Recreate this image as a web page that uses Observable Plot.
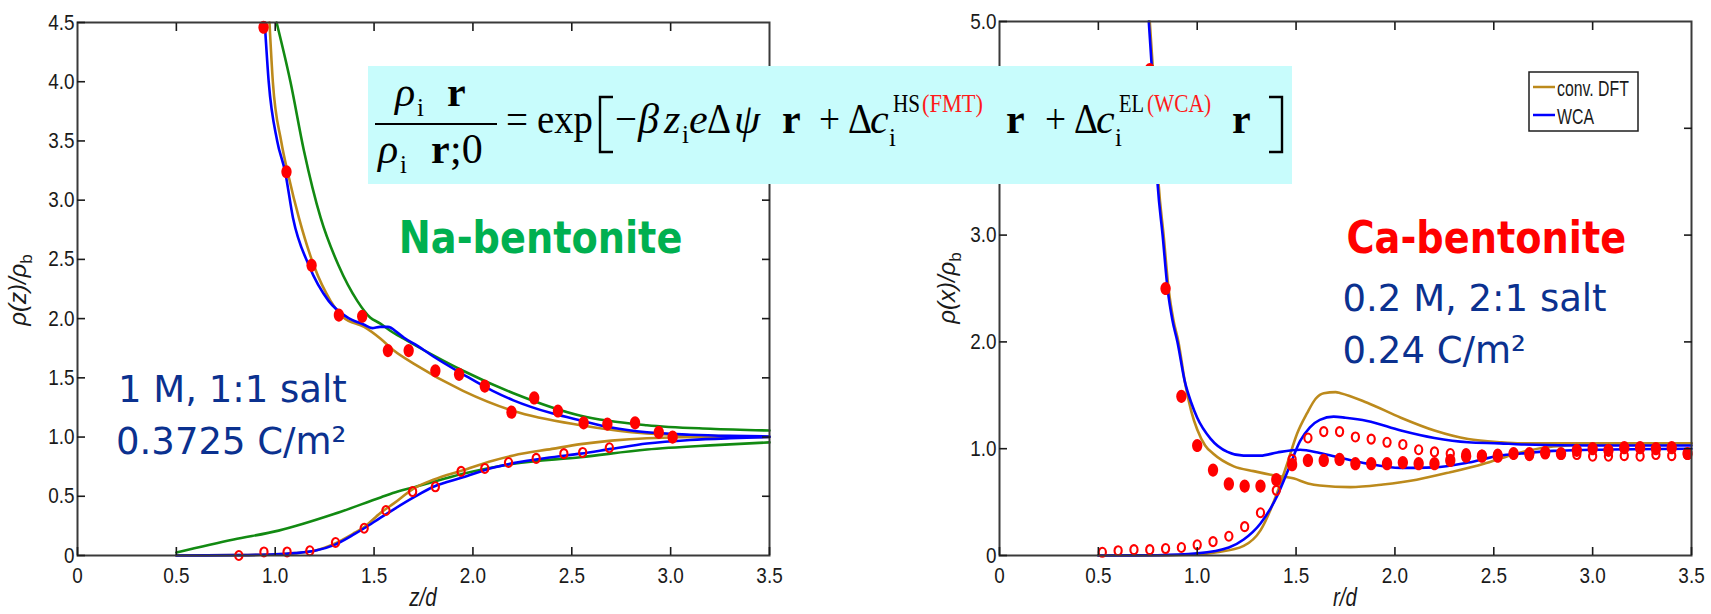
<!DOCTYPE html>
<html><head><meta charset="utf-8">
<script src="https://cdn.jsdelivr.net/npm/d3@7"></script>
<script src="https://cdn.jsdelivr.net/npm/@observablehq/plot@0.6"></script>
<style>
html,body{margin:0;padding:0;background:#fff;}
#root{position:relative;width:1711px;height:614px;overflow:hidden;background:#fff;}
#root > svg{position:absolute;}
</style></head><body><div id="root"></div>
<script>
// ---------------- DATA ----------------
const xTicks = [0, 0.5, 1.0, 1.5, 2.0, 2.5, 3.0, 3.5];
const naYTicks = [0, 0.5, 1.0, 1.5, 2.0, 2.5, 3.0, 3.5, 4.0, 4.5];
const caYTicks = [0, 1.0, 2.0, 3.0, 4.0, 5.0];
const caHiddenTickLabels = [4.0]; // covered by the equation box in the reference

// Na-bentonite (left) : counterion curves
const naCounterWCA = [[0.947,4.5],[0.967,4.0],[1.01,3.5],[1.05,3.24],[1.09,2.85],[1.17,2.45],[1.27,2.15],[1.365,2.01],[1.447,1.95],[1.49,1.92],[1.53,1.93],[1.57,1.93],[1.62,1.88],[1.65,1.84],[1.72,1.77],[1.8,1.68],[1.95,1.53],[2.1,1.39],[2.205,1.31],[2.4,1.2],[2.545,1.14],[2.7,1.08],[2.88,1.04],[3.1,1.02],[3.3,1.01],[3.5,1.005]];
const naCounterDFT = [[0.971,4.5],[0.988,4.0],[1.03,3.5],[1.068,3.2],[1.12,2.85],[1.195,2.45],[1.28,2.15],[1.345,2.01],[1.45,1.93],[1.533,1.83],[1.6,1.73],[1.70,1.62],[1.95,1.39],[2.205,1.22],[2.545,1.10],[2.88,1.03],[3.2,1.01],[3.5,1.0]];
const naCounterPB = [[1.007,4.5],[1.077,4.0],[1.145,3.42],[1.23,2.85],[1.32,2.45],[1.415,2.15],[1.48,2.01],[1.53,1.96],[1.58,1.90],[1.65,1.83],[1.8,1.69],[1.95,1.56],[2.205,1.37],[2.545,1.18],[2.88,1.10],[3.2,1.07],[3.5,1.055]];
// Na-bentonite : coion curves
const naCoWCA = [[0.5,0.0],[0.8,0.003],[1.0,0.01],[1.1,0.02],[1.2,0.04],[1.3,0.09],[1.4,0.18],[1.45,0.23],[1.533,0.32],[1.6,0.39],[1.7,0.49],[1.8,0.58],[1.95,0.66],[2.1,0.74],[2.205,0.78],[2.4,0.83],[2.545,0.86],[2.7,0.9],[2.88,0.945],[3.1,0.975],[3.3,0.99],[3.5,1.0]];
const naCoDFT = [[0.5,0.0],[0.8,0.003],[1.0,0.01],[1.1,0.02],[1.2,0.04],[1.3,0.1],[1.4,0.19],[1.45,0.24],[1.533,0.36],[1.6,0.44],[1.7,0.565],[1.8,0.64],[1.95,0.72],[2.1,0.8],[2.205,0.845],[2.4,0.9],[2.545,0.94],[2.7,0.97],[2.88,0.99],[3.2,1.0],[3.5,1.0]];
const naCoPB = [[0.5,0.025],[0.79,0.135],[1.017,0.21],[1.297,0.35],[1.533,0.49],[1.62,0.54],[1.70,0.575],[1.95,0.69],[2.205,0.775],[2.545,0.83],[2.88,0.895],[3.2,0.93],[3.5,0.955]];
// Na-bentonite : simulation points
const naCounterMC = [[0.941,4.46],[1.057,3.24],[1.184,2.45],[1.322,2.03],[1.44,2.02],[1.57,1.73],[1.675,1.73],[1.81,1.56],[1.93,1.53],[2.06,1.43],[2.195,1.21],[2.31,1.33],[2.43,1.22],[2.56,1.12],[2.68,1.11],[2.82,1.12],[2.94,1.04],[3.01,1.0]];
const naCoMC = [[0.816,0.0],[0.943,0.03],[1.06,0.03],[1.175,0.04],[1.305,0.11],[1.45,0.23],[1.56,0.38],[1.695,0.54],[1.81,0.58],[1.94,0.71],[2.06,0.735],[2.18,0.785],[2.32,0.82],[2.46,0.86],[2.555,0.87],[2.69,0.91]];

// Ca-bentonite (right) : counterion curves
const caCounterWCA = [[0.755,5.0],[0.77,4.58],[0.80,3.47],[0.825,3.0],[0.85,2.5],[0.875,2.2],[0.90,2.0],[0.936,1.64],[0.97,1.43],[1.0,1.29],[1.067,1.095],[1.153,0.97],[1.234,0.935],[1.32,0.935],[1.405,0.965],[1.52,0.99],[1.62,0.96],[1.725,0.915],[1.86,0.86],[2.03,0.82],[2.2,0.825],[2.37,0.87],[2.53,0.935],[2.64,0.955],[2.8,0.98],[3.0,0.99],[3.5,1.0]];
const caCounterDFT = [[0.76,5.0],[0.775,4.58],[0.805,3.47],[0.83,3.0],[0.855,2.5],[0.88,2.2],[0.905,2.0],[0.94,1.6],[0.97,1.35],[1.0,1.18],[1.04,1.03],[1.08,0.955],[1.185,0.835],[1.285,0.79],[1.39,0.75],[1.49,0.72],[1.56,0.675],[1.62,0.655],[1.775,0.64],[1.94,0.665],[2.11,0.71],[2.28,0.78],[2.45,0.86],[2.57,0.93],[2.635,0.965],[2.8,1.02],[3.0,1.04],[3.5,1.05]];
// Ca-bentonite : coion curves
const caCoWCA = [[0.5,0.0],[0.8,0.003],[1.0,0.02],[1.16,0.075],[1.235,0.15],[1.32,0.3],[1.405,0.56],[1.46,0.8],[1.52,1.07],[1.57,1.2],[1.62,1.27],[1.69,1.3],[1.75,1.29],[1.86,1.26],[2.03,1.17],[2.2,1.1],[2.37,1.06],[2.53,1.05],[2.64,1.04],[3.0,1.03],[3.5,1.03]];
const caCoDFT = [[0.5,0.0],[0.8,0.002],[1.0,0.01],[1.1,0.03],[1.235,0.09],[1.32,0.235],[1.405,0.59],[1.455,0.86],[1.505,1.14],[1.555,1.33],[1.6,1.47],[1.64,1.52],[1.7,1.53],[1.725,1.52],[1.86,1.43],[2.03,1.29],[2.2,1.17],[2.37,1.09],[2.53,1.06],[2.64,1.05],[3.0,1.05],[3.5,1.05]];
// Ca-bentonite : simulation points
const caCounterMC = [[0.76,4.55],[0.84,2.5],[0.92,1.49],[1.0,1.03],[1.08,0.8],[1.16,0.67],[1.24,0.65],[1.32,0.65],[1.4,0.71],[1.48,0.85],[1.56,0.89],[1.64,0.89],[1.72,0.9],[1.8,0.86],[1.88,0.86],[1.96,0.86],[2.04,0.87],[2.12,0.86],[2.2,0.86],[2.28,0.89],[2.36,0.93],[2.44,0.93],[2.52,0.93],[2.6,0.955],[2.68,0.955],[2.76,0.965],[2.84,0.955],[2.92,0.985],[3.0,1.0],[3.08,0.985],[3.16,1.01],[3.24,1.01],[3.32,1.0],[3.4,1.01],[3.48,0.955]];
const caCoMC = [[0.52,0.03],[0.6,0.045],[0.68,0.055],[0.76,0.055],[0.84,0.065],[0.92,0.075],[1.0,0.1],[1.08,0.13],[1.16,0.18],[1.24,0.27],[1.32,0.4],[1.4,0.61],[1.48,0.9],[1.56,1.1],[1.64,1.16],[1.72,1.16],[1.8,1.11],[1.88,1.09],[1.96,1.06],[2.04,1.04],[2.12,0.99],[2.2,0.97],[2.28,0.955],[2.36,0.955],[2.44,0.94],[2.52,0.95],[2.6,0.96],[2.68,0.935],[2.76,0.95],[2.84,0.945],[2.92,0.945],[3.0,0.93],[3.08,0.93],[3.16,0.935],[3.24,0.93],[3.32,0.945],[3.4,0.935],[3.48,0.945]];

// annotations
const naNotes = [
  {x:1.625, y:2.55, text:"Na-bentonite", kind:"title", color:"#00b050"},
  {x:0.205, y:1.292, text:"1 M, 1:1 salt", kind:"cond", color:"#0b318f"},
  {x:0.195, y:0.861, text:"0.3725 C/m²", kind:"cond", color:"#0b318f"}
];
const caNotes = [
  {x:1.755, y:2.837, text:"Ca-bentonite", kind:"title", color:"#ff0000"},
  {x:1.735, y:2.294, text:"0.2 M, 2:1 salt", kind:"cond", color:"#0b318f"},
  {x:1.735, y:1.798, text:"0.24 C/m²", kind:"cond", color:"#0b318f"}
];
const legendItems = [{label:"conv. DFT", color:"#bc8a1c"}, {label:"WCA", color:"#0000ff"}];

// ---------------- STYLE ----------------
const C = {wca:"#0000ff", dft:"#bc8a1c", pb:"#128a12", mc:"#ff0000"};

function ellipse(kx){
  return {draw(ctx, size){
    const r = Math.sqrt(size/Math.PI), rx = r*kx, ry = r, k = 0.5523;
    ctx.moveTo(rx,0);
    ctx.bezierCurveTo(rx, ry*k, rx*k, ry, 0, ry);
    ctx.bezierCurveTo(-rx*k, ry, -rx, ry*k, -rx, 0);
    ctx.bezierCurveTo(-rx, -ry*k, -rx*k, -ry, 0, -ry);
    ctx.bezierCurveTo(rx*k, -ry, rx, -ry*k, rx, 0);
    ctx.closePath();
  }};
}
const fmt = d => d === 0 ? "0" : d.toFixed(1);
const px = d => d[0], py = d => d[1];

function panel({width, marginLeft, marginRight, marginTop, ymax, yTicks, hidden = [], curves, filled, open, notes}){
  const lineMarks = curves.map(([data, color]) => Plot.line(data, {x:px, y:py, stroke:color, strokeWidth:2.6, curve:"monotone-x"}));
  return Plot.plot({
    width, height:614, marginLeft, marginRight, marginTop, marginBottom:59,
    x:{domain:[0,3.5]}, y:{domain:[0,ymax]},
    style:{fontFamily:"'Liberation Sans Narrow','Liberation Sans',Arial,sans-serif", fontSize:"22px", color:"#1a1a1a", background:"transparent", overflow:"visible"},
    marks:[
      ...lineMarks,
      Plot.dot(filled, {x:px, y:py, r:6.6, symbol:ellipse(0.78), fill:C.mc, stroke:"none"}),
      Plot.dot(open, {x:px, y:py, r:4.5, symbol:ellipse(0.8), fill:"none", stroke:C.mc, strokeWidth:2.1}),
      Plot.text(notes.filter(n=>n.kind==="title"), {x:"x", y:"y", text:"text", fill:"color", textAnchor:"start", lineAnchor:"bottom", fontSize:44, fontWeight:"bold", fontFamily:"'DejaVu Sans',Verdana,sans-serif"}),
      Plot.text(notes.filter(n=>n.kind==="cond"), {x:"x", y:"y", text:"text", fill:"color", textAnchor:"start", lineAnchor:"bottom", fontSize:37, fontFamily:"'DejaVu Sans',Verdana,sans-serif"}),
      Plot.frame({stroke:"#3a3a3a", strokeWidth:2}),
      Plot.axisX({ticks:xTicks, anchor:"bottom", tickSize:-8, tickPadding:20, tickFormat:fmt, label:null, strokeWidth:1.6}),
      Plot.axisX({ticks:xTicks.slice(1,-1), anchor:"top", tickSize:-8, tickFormat:()=>"", label:null, strokeWidth:1.6}),
      Plot.axisY({ticks:yTicks.filter(t=>!hidden.includes(t)), anchor:"left", tickSize:-8, tickPadding:11, tickFormat:fmt, label:null, strokeWidth:1.6}),
      Plot.axisY({ticks:hidden, anchor:"left", tickSize:-8, tickFormat:()=>"", label:null, strokeWidth:1.6}),
      Plot.axisY({ticks:yTicks.slice(1,-1), anchor:"right", tickSize:-8, tickFormat:()=>"", label:null, strokeWidth:1.6})
    ]
  });
}

const root = document.getElementById("root");

const left = panel({width:800, marginLeft:77, marginRight:31, marginTop:22, ymax:4.5, yTicks:naYTicks,
  curves:[[naCounterPB,C.pb],[naCoPB,C.pb],[naCounterDFT,C.dft],[naCoDFT,C.dft],[naCounterWCA,C.wca],[naCoWCA,C.wca]],
  filled:naCounterMC, open:naCoMC, notes:naNotes});
left.style.left = "0px"; left.style.top = "0px";
root.appendChild(left);

const right = panel({width:811, marginLeft:99, marginRight:20, marginTop:21, ymax:5.0, yTicks:caYTicks, hidden:caHiddenTickLabels,
  curves:[[caCounterDFT,C.dft],[caCoDFT,C.dft],[caCounterWCA,C.wca],[caCoWCA,C.wca]],
  filled:caCounterMC, open:caCoMC, notes:caNotes});
right.style.left = "900px"; right.style.top = "0px";
root.appendChild(right);

// condense narrow fonts
function squeeze(el, f){ const L = el.getComputedTextLength(); if (L > 0){ el.setAttribute("textLength", (L*f).toFixed(1)); el.setAttribute("lengthAdjust","spacingAndGlyphs"); } }
for (const svg of [left, right]){
  svg.querySelectorAll('g[aria-label$="tick label"] text').forEach(t => squeeze(t, 0.86));
  svg.querySelectorAll('g[aria-label="text"] text').forEach(t => { if (/bentonite/.test(t.textContent)) squeeze(t, 0.87); });
}

// ---------------- OVERLAY: axis labels, formula, legend ----------------
const ov = d3.select(root).append("svg").attr("width",1711).attr("height",614)
  .style("left","0px").style("top","0px").style("pointer-events","none");
const sans = "'Liberation Sans Narrow','Liberation Sans',Arial,sans-serif";

// x labels
[["z/d",423],["r/d",1345]].forEach(([t,x]) => {
  const e = ov.append("text").attr("x",x).attr("y",606).attr("text-anchor","middle")
    .attr("font-family",sans).attr("font-style","italic").attr("font-size",25).attr("fill","#1a1a1a").text(t);
  squeeze(e.node(), 0.82);
});
// y labels
[["ρ(z)/ρ",26,290],["ρ(x)/ρ",955,288]].forEach(([t,x,y]) => {
  const e = ov.append("text").attr("transform",`translate(${x},${y}) rotate(-90)`).attr("text-anchor","middle")
    .attr("font-family",sans).attr("font-size",24).attr("fill","#1a1a1a");
  e.append("tspan").attr("font-style","italic").text(t);
  e.append("tspan").attr("font-size",17).attr("dy",6).text("b");
});

// formula box
ov.append("rect").attr("x",368).attr("y",66).attr("width",924).attr("height",118).attr("fill","#c8fcfc");
const serif = "'Liberation Serif','Times New Roman',serif";
const F = 42, S = 25, SUP = 112, SUB = 146;
const numerator = [{t:"ρ",x:395,y:106,it:1},{t:"i",x:417,y:116,s:S},{t:"r",x:447,y:106,b:1}];
const denominator = [{t:"ρ",x:378,y:163,it:1},{t:"i",x:400,y:173,s:S},{t:"r",x:431,y:163,b:1},{t:";0",x:450,y:163}];
const mainLine = [
  {t:"=",x:506,y:133,len:22},{t:"exp",x:537,y:133,len:56},
  {t:"−",x:615,y:133,len:22},{t:"β",x:638,y:133,it:1},{t:"z",x:664,y:133,it:1},{t:"i",x:682,y:SUB-3,s:S},
  {t:"e",x:689,y:133,it:1},{t:"Δ",x:707,y:133,len:24},{t:"ψ",x:734,y:133,it:1},{t:"r",x:782,y:133,b:1},
  {t:"+",x:819,y:133,len:21},{t:"Δ",x:848,y:133,len:24},{t:"c",x:870,y:133,it:1},{t:"i",x:889,y:SUB,s:S},
  {t:"HS",x:893,y:SUP,s:S,len:27},{t:"(FMT)",x:922,y:SUP,s:S,len:61,red:1},
  {t:"r",x:1006,y:133,b:1},
  {t:"+",x:1045,y:133,len:21},{t:"Δ",x:1074,y:133,len:24},{t:"c",x:1096,y:133,it:1},{t:"i",x:1115,y:SUB,s:S},
  {t:"EL",x:1119,y:SUP,s:S,len:25},{t:"(WCA)",x:1147,y:SUP,s:S,len:64,red:1},
  {t:"r",x:1232,y:133,b:1}
];
[numerator, denominator, mainLine].forEach(group => {
  const txt = ov.append("text").attr("font-family",serif).attr("font-size",F).attr("fill","#000");
  group.forEach(p => {
    const ts = txt.append("tspan").attr("x",p.x).attr("y",p.y).attr("font-size",p.s||F)
      .attr("font-style",p.it?"italic":"normal").attr("font-weight",p.b?"bold":"normal")
      .attr("fill",p.red?"#ff1a1a":"#000").text(p.t);
    if (p.len) ts.attr("textLength",p.len).attr("lengthAdjust","spacingAndGlyphs");
  });
});
ov.append("line").attr("x1",375).attr("x2",497).attr("y1",124).attr("y2",124).attr("stroke","#000").attr("stroke-width",2);
ov.append("path").attr("d","M613,97H600V152H613").attr("fill","none").attr("stroke","#000").attr("stroke-width",2.4);
ov.append("path").attr("d","M1269,97H1282V152H1269").attr("fill","none").attr("stroke","#000").attr("stroke-width",2.4);

// legend
const lg = ov.append("g");
lg.append("rect").attr("x",1529).attr("y",72).attr("width",109).attr("height",59).attr("fill","#fff").attr("stroke","#1e1e1e").attr("stroke-width",1.5);
legendItems.forEach((d,i) => {
  const y = 87 + i*28;
  lg.append("line").attr("x1",1533).attr("x2",1555).attr("y1",y).attr("y2",y).attr("stroke",d.color).attr("stroke-width",2.5);
  const e = lg.append("text").attr("x",1557).attr("y",y+9).attr("font-family",sans).attr("font-size",22).attr("fill","#1a1a1a").text(d.label);
  squeeze(e.node(), 0.72);
});
</script></body></html>
